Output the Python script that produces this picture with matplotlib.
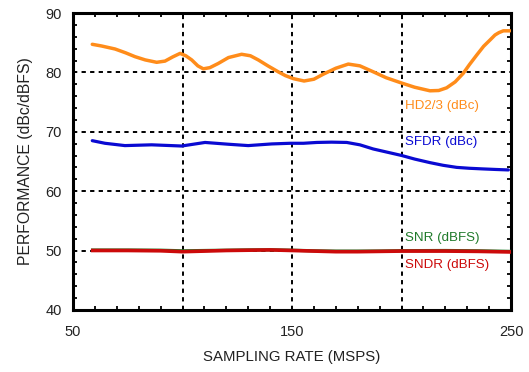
import matplotlib
matplotlib.use("Agg")
import matplotlib.pyplot as plt
from matplotlib.ticker import MultipleLocator, FixedLocator

plt.rcParams['font.family'] = ['Liberation Sans', 'DejaVu Sans']

# Sampling rate (MSPS) and measured performance curves
hd_x = [58.8, 63, 69.2, 74, 78.3, 83, 88.2, 92.0, 95.5, 98.9, 101.5, 104.2, 107, 109.5, 112.5,
        116.3, 121, 127.0, 131, 134.6, 139, 143.7, 147, 150.6, 155.5, 160, 164.3, 170,
        175.7, 181, 187.1, 193, 200.1, 206, 213.0, 217, 220.6, 224.5, 228.2, 231,
        234.3, 237.5, 240.4, 242.7, 244.5, 246.5, 249.5]
hd_y = [84.73, 84.45, 83.94, 83.3, 82.65, 82.1, 81.7, 81.9, 82.6, 83.2, 82.8, 82.1, 81.1, 80.6, 80.8,
        81.5, 82.5, 83.05, 82.8, 82.1, 81.1, 80.1, 79.45, 78.95, 78.55, 78.85, 79.7, 80.7,
        81.4, 81.1, 80.1, 79.1, 78.2, 77.5, 76.9, 76.95, 77.4, 78.4, 79.85, 81.3,
        82.9, 84.4, 85.45, 86.3, 86.7, 87.0, 87.0]

sfdr_x = [58.8, 64.6, 73.7, 85.9, 99.6, 110.3, 120.9, 130.0, 140.7, 149.1, 155.2, 161.3,
          168, 175.0, 181, 187.1, 193, 200.1, 206, 213.0, 219, 225.2, 231, 237.3, 243, 248.8]
sfdr_y = [68.5, 68.06, 67.67, 67.8, 67.6, 68.2, 67.9, 67.67, 67.95, 68.06, 68.06, 68.2,
          68.25, 68.2, 67.8, 67.1, 66.6, 66.0, 65.4, 64.8, 64.35, 64.0, 63.85, 63.74, 63.65, 63.57]

sn_x = [59, 75, 90, 100, 110, 120, 130, 140, 150, 160, 170, 180, 190, 200, 220, 235, 250]
snr_y = [50.08, 50.08, 50.05, 49.95, 50.0, 50.05, 50.1, 50.12, 50.05, 49.95, 49.9, 49.9,
         49.92, 49.97, 50.0, 49.95, 49.85]
sndr_y = [50.0, 50.0, 49.95, 49.8, 49.9, 50.0, 50.05, 50.1, 50.0, 49.9, 49.8, 49.8,
          49.85, 49.9, 49.9, 49.85, 49.75]

x_ticks = [50, 150, 250]
y_ticks = [40, 50, 60, 70, 80, 90]

ORANGE = '#ff8c1a'
BLUE = '#0a0ad2'
GREEN = '#1f7a2a'
RED = '#cc0a0a'

fig = plt.figure(figsize=(5.29, 3.72), dpi=100)
ax = fig.add_axes([0.138, 0.167, 0.828, 0.798])

ax.set_xlim(50, 250)
ax.set_ylim(40, 90)

# dashed reference grid
for gx in [100, 150, 200]:
    ax.axvline(gx, color='black', lw=1.4, dashes=(2.2, 2.2), zorder=1)
for gy in [50, 60, 70, 80]:
    ax.axhline(gy, color='black', lw=1.4, dashes=(2.2, 2.2), zorder=1)

ax.plot(hd_x, hd_y, color=ORANGE, lw=2.5, solid_capstyle='round', solid_joinstyle='round', zorder=3)
ax.plot(sfdr_x, sfdr_y, color=BLUE, lw=2.3, solid_capstyle='round', solid_joinstyle='round', zorder=3)
ax.plot(sn_x, snr_y, color=GREEN, lw=2.3, zorder=3)
ax.plot(sn_x, sndr_y, color=RED, lw=2.6, zorder=4)

lbl = dict(fontsize=9.6, va='center', ha='left')
ax.text(201.5, 74.3, 'HD2/3 (dBc)', color=ORANGE, **lbl)
ax.text(201.5, 68.3, 'SFDR (dBc)', color=BLUE, **lbl)
ax.text(201.5, 52.1, 'SNR (dBFS)', color=GREEN, **lbl)
ax.text(201.5, 47.6, 'SNDR (dBFS)', color=RED, **lbl)

ax.xaxis.set_major_locator(FixedLocator(x_ticks))
ax.yaxis.set_major_locator(FixedLocator(y_ticks))
ax.xaxis.set_minor_locator(MultipleLocator(10))
ax.yaxis.set_minor_locator(MultipleLocator(2))
ax.set_xticklabels([str(v) for v in x_ticks])
ax.set_yticklabels([str(v) for v in y_ticks])

ax.tick_params(which='both', direction='in', top=True, right=True, color='black')
ax.tick_params(which='major', length=0, labelsize=10.5, pad=8, labelcolor='#222222')
ax.tick_params(which='minor', length=3, width=1.3)
ax.tick_params(axis='x', which='major', pad=11)

for sp in ax.spines.values():
    sp.set_linewidth(2.2)
    sp.set_color('black')

ax.set_xlabel('SAMPLING RATE (MSPS)', fontsize=10.8, color='#222222', labelpad=8)
ax.set_ylabel('PERFORMANCE (dBc/dBFS)', fontsize=11.3, color='#222222', labelpad=9)

fig.savefig('out.png', dpi=100)
